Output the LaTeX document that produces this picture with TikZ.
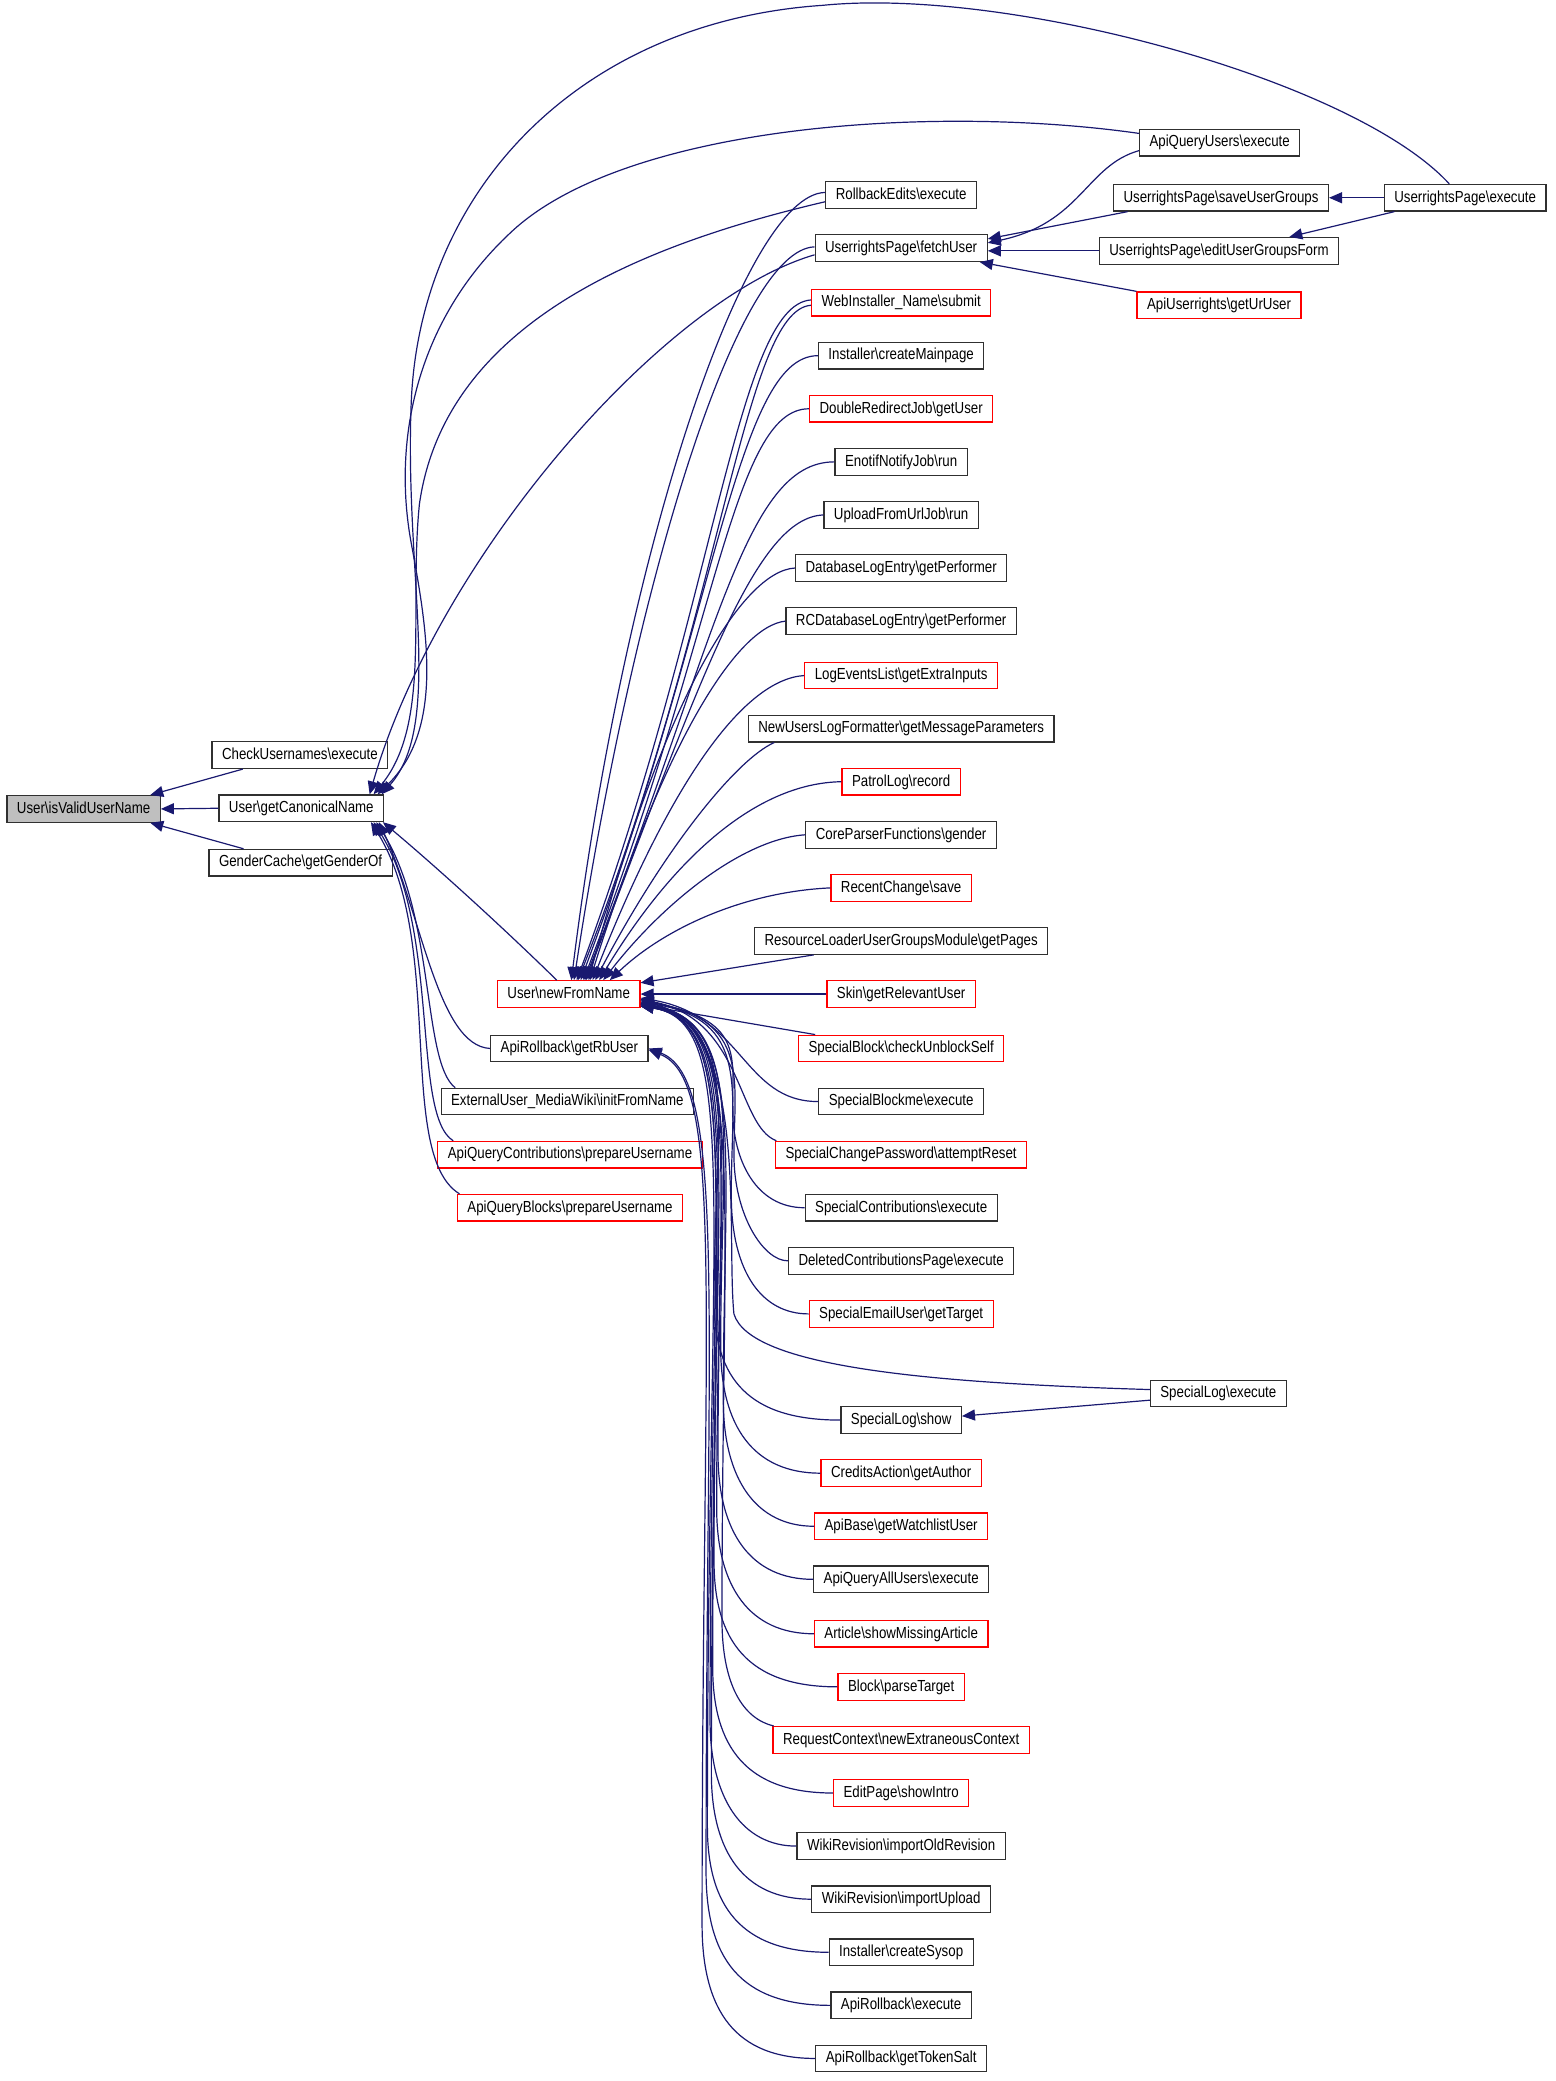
\documentclass[tikz,border=0pt]{standalone}
\usepackage{fontspec}
\setmainfont{Liberation Sans}[FakeStretch=0.83]
\usepackage{tikz}
\usetikzlibrary{arrows.meta,calc}
\definecolor{edgeblue}{HTML}{191970}
\definecolor{boxline}{HTML}{303030}
\newcommand{\bsl}{\textbackslash}

\begin{document}
\begin{tikzpicture}[x=0.6635pt,y=-0.6635pt]
	\useasboundingbox (0,0) rectangle (1172,1568);
	\begin{scope}[every node/.style={rectangle,draw=boxline,line width=0.6pt,fill=white,
				inner xsep=5pt,inner ysep=0pt,minimum height=13.3pt,
				text height=5.9pt,text depth=1.6pt,font=\fontsize{8}{9}\selectfont},
			missing/.style={draw=red},
			focus/.style={fill=gray!50}]
		% column 0: the function itself
		\node[focus] (ivu) at (63,609.5) {User\bsl isValidUserName};
		% column 1
		\node (chk) at (226,569) {CheckUsernames\bsl execute};
		\node (gcn) at (227,609) {User\bsl getCanonicalName};
		\node (gcg) at (226.5,650) {GenderCache\bsl getGenderOf};
		% column 2
		\node[missing] (nfn) at (428.5,749) {User\bsl newFromName};
		\node (grb) at (429,790) {ApiRollback\bsl getRbUser};
		\node (ext) at (427.5,830) {ExternalUser\_MediaWiki\bsl initFromName};
		\node[missing] (aqc) at (429.5,870) {ApiQueryContributions\bsl prepareUsername};
		\node[missing] (aqb) at (429.5,910) {ApiQueryBlocks\bsl prepareUsername};
		% column 3
		\node (rbe) at (679,147) {RollbackEdits\bsl execute};
		\node (fet) at (679,187) {UserrightsPage\bsl fetchUser};
		\node[missing] (wis) at (679,228) {WebInstaller\_Name\bsl submit};
		\node (icm) at (679,268) {Installer\bsl createMainpage};
		\node[missing] (drj) at (679,308) {DoubleRedirectJob\bsl getUser};
		\node (enj) at (679,348) {EnotifNotifyJob\bsl run};
		\node (ufu) at (679,388) {UploadFromUrlJob\bsl run};
		\node (dle) at (679,428) {DatabaseLogEntry\bsl getPerformer};
		\node (rcd) at (679,468) {RCDatabaseLogEntry\bsl getPerformer};
		\node[missing] (lel) at (679,509) {LogEventsList\bsl getExtraInputs};
		\node (nul) at (679,549) {NewUsersLogFormatter\bsl getMessageParameters};
		\node[missing] (plr) at (679,589) {PatrolLog\bsl record};
		\node (cpf) at (679,629) {CoreParserFunctions\bsl gender};
		\node[missing] (rcs) at (679,669) {RecentChange\bsl save};
		\node (rlg) at (679,709) {ResourceLoaderUserGroupsModule\bsl getPages};
		\node[missing] (skn) at (679,749) {Skin\bsl getRelevantUser};
		\node[missing] (sbc) at (679,790) {SpecialBlock\bsl checkUnblockSelf};
		\node (sbm) at (679,830) {SpecialBlockme\bsl execute};
		\node[missing] (scp) at (679,870) {SpecialChangePassword\bsl attemptReset};
		\node (sco) at (679,910) {SpecialContributions\bsl execute};
		\node (dcp) at (679,950) {DeletedContributionsPage\bsl execute};
		\node[missing] (seu) at (679,990) {SpecialEmailUser\bsl getTarget};
		\node (sls) at (679,1070) {SpecialLog\bsl show};
		\node[missing] (cag) at (679,1110) {CreditsAction\bsl getAuthor};
		\node[missing] (abw) at (679,1150) {ApiBase\bsl getWatchlistUser};
		\node (aau) at (679,1190) {ApiQueryAllUsers\bsl execute};
		\node[missing] (asm) at (679,1231) {Article\bsl showMissingArticle};
		\node[missing] (bpt) at (679,1271) {Block\bsl parseTarget};
		\node[missing] (rce) at (679,1311) {RequestContext\bsl newExtraneousContext};
		\node[missing] (eps) at (679,1351) {EditPage\bsl showIntro};
		\node (wio) at (679,1391) {WikiRevision\bsl importOldRevision};
		\node (wiu) at (679,1431) {WikiRevision\bsl importUpload};
		\node (ics) at (679,1471) {Installer\bsl createSysop};
		\node (are) at (679,1511) {ApiRollback\bsl execute};
		\node (ats) at (679,1551) {ApiRollback\bsl getTokenSalt};
		% column 4
		\node (aqu) at (919,107.5) {ApiQueryUsers\bsl execute};
		\node (sug) at (920,149) {UserrightsPage\bsl saveUserGroups};
		\node (eug) at (918.5,189) {UserrightsPage\bsl editUserGroupsForm};
		\node[missing] (aur) at (918.5,230) {ApiUserrights\bsl getUrUser};
		\node (sle) at (918,1050) {SpecialLog\bsl execute};
		% column 5
		\node (urpe) at (1104,149) {UserrightsPage\bsl execute};
	\end{scope}

	\begin{scope}[>={Triangle[length=6.5pt,width=5.5pt]},
			calls/.style={draw=edgeblue,line width=0.6pt,->}]
		% into isValidUserName
		\draw[calls] ($(chk.south)+(-43,0)$) -- ($(ivu.north east)+(-8,0)$);
		\draw[calls] (gcn.west) -- (ivu.east);
		\draw[calls] ($(gcg.north)+(-43,0)$) -- ($(ivu.south east)+(-8,0)$);

		% into getCanonicalName, from above
		\draw[calls] ($(urpe.north)+(-12,0)$) .. controls (1020,60) and (760,-10) .. (620,4)
			.. controls (440,16) and (318,140) .. (310,300)
			.. controls (304,430) and (335,545) .. ($(gcn.north east)+(-2,0)$);
		\draw[calls] ($(aqu.west)+(0,-7)$) .. controls (700,78) and (470,95) .. (385,175)
			.. controls (315,240) and (295,330) .. (310,410)
			.. controls (322,475) and (335,550) .. ($(gcn.north east)+(-5,0)$);
		\draw[calls] ($(rbe.west)+(0,5)$) .. controls (480,185) and (335,245) .. (316,380)
			.. controls (308,460) and (325,545) .. ($(gcn.north east)+(-8,0)$);
		\draw[calls] ($(fet.west)+(0,5)$) .. controls (500,225) and (330,420) .. ($(gcn.north east)+(-11,0)$);
		% into getCanonicalName, from below
		\draw[calls] ($(nfn.north)+(-9,0)$) .. controls (375,695) and (325,650) .. ($(gcn.south east)+(-1,0)$);
		\draw[calls] (grb.west) .. controls (330,788) and (318,690) .. ($(gcn.south east)+(-4,0)$);
		\draw[calls] ($(ext.north west)+(11,0)$) .. controls (318,800) and (328,690) .. ($(gcn.south east)+(-6,0)$);
		\draw[calls] ($(aqc.north west)+(12,0)$) .. controls (310,840) and (332,700) .. ($(gcn.south east)+(-8,0)$);
		\draw[calls] ($(aqb.north west)+(2,0)$) .. controls (298,870) and (336,710) .. ($(gcn.south east)+(-10,0)$);

		% into newFromName, from above
		\draw[calls] ($(rbe.west)+(0,-2)$) .. controls (560,146) and (470,420) .. ($(nfn.north)+(2,0)$);
		\draw[calls] ($(fet.west)+(0,-1)$) .. controls (555,188) and (478,440) .. ($(nfn.north)+(4,0)$);
		\draw[calls] ($(wis.west)+(0,-2)$) .. controls (555,230) and (540,455) .. ($(nfn.north)+(6,0)$);
		\draw[calls] ($(wis.west)+(0,2)$) .. controls (560,234) and (545,460) .. ($(nfn.north)+(7,0)$);
		\draw[calls] (icm.west) .. controls (555,268) and (540,465) .. ($(nfn.north)+(9,0)$);
		\draw[calls] (drj.west) .. controls (552,308) and (541,475) .. ($(nfn.north)+(11,0)$);
		\draw[calls] (enj.west) .. controls (560,348) and (540,485) .. ($(nfn.north)+(12,0)$);
		\draw[calls] (ufu.west) .. controls (570,390) and (530,505) .. ($(nfn.north)+(13,0)$);
		\draw[calls] (dle.west) .. controls (560,430) and (500,525) .. ($(nfn.north)+(15,0)$);
		\draw[calls] (rcd.west) .. controls (555,472) and (500,560) .. ($(nfn.north)+(16,0)$);
		\draw[calls] (lel.west) .. controls (560,512) and (505,590) .. ($(nfn.north)+(18,0)$);
		\draw[calls] ($(nul.south west)+(20,0)$) .. controls (555,572) and (500,640) .. ($(nfn.north)+(20,0)$);
		\draw[calls] (plr.west) .. controls (568,590) and (505,650) .. ($(nfn.north)+(23,0)$);
		\draw[calls] (cpf.west) .. controls (560,632) and (500,680) .. ($(nfn.north)+(26,0)$);
		\draw[calls] (rcs.west) .. controls (560,672) and (500,700) .. ($(nfn.north)+(31,0)$);
		\draw[calls] ($(rlg.south west)+(45,0)$) -- ($(nfn.north east)+(0,2)$);
		\draw[calls] (skn.west) -- (nfn.east);
		\draw[calls] ($(sbc.north west)+(13,0)$) -- ($(nfn.east)+(0,8)$);

		% into newFromName, from below
		\draw[calls] (sbm.west) .. controls (560,830) and (560,765) .. ($(nfn.east)+(0,3)$);
		\draw[calls] ($(scp.north west)+(1,0)$) .. controls (555,848) and (560,768) .. ($(nfn.east)+(0,4)$);
		\draw[calls] (sco.west) .. controls (570,910) and (552,875) .. (552,835)
			.. controls (552,795) and (560,768) .. ($(nfn.east)+(0,5)$);
		\draw[calls] (dcp.west) .. controls (575,950) and (553,915) .. (553,870)
			.. controls (553,815) and (566,768) .. ($(nfn.east)+(0,5)$);
		\draw[calls] (seu.west) .. controls (575,990) and (551,960) .. (551,900)
			.. controls (551,820) and (566,768) .. ($(nfn.east)+(0,6)$);
		\draw[calls] ($(sle.west)+(0,-3)$) .. controls (700,1042) and (565,1030) .. (553,990)
			.. controls (547,930) and (565,770) .. ($(nfn.east)+(0,6)$);
		\draw[calls] (sls.west) .. controls (565,1070) and (538,1040) .. (538,980)
			.. controls (538,850) and (560,770) .. ($(nfn.east)+(0,7)$);
		\draw[calls] (cag.west) .. controls (568,1110) and (543,1075) .. (543,1015)
			.. controls (543,860) and (562,770) .. ($(nfn.east)+(0,7)$);
		\draw[calls] (abw.west) .. controls (570,1150) and (545,1115) .. (545,1055)
			.. controls (545,870) and (563,770) .. ($(nfn.east)+(0,7)$);
		\draw[calls] (aau.west) .. controls (566,1190) and (541,1155) .. (541,1095)
			.. controls (541,870) and (562,770) .. ($(nfn.east)+(0,8)$);
		\draw[calls] (asm.west) .. controls (565,1231) and (540,1196) .. (540,1136)
			.. controls (540,880) and (562,770) .. ($(nfn.east)+(0,8)$);
		\draw[calls] (bpt.west) .. controls (563,1271) and (538,1236) .. (538,1176)
			.. controls (538,880) and (561,770) .. ($(nfn.east)+(0,8)$);
		\draw[calls] ($(rce.north west)+(1,0)$) .. controls (560,1295) and (544,1270) .. (544,1220)
			.. controls (544,880) and (563,770) .. ($(nfn.east)+(0,9)$);
		\draw[calls] (eps.west) .. controls (562,1351) and (537,1316) .. (537,1256)
			.. controls (537,890) and (561,770) .. ($(nfn.east)+(0,9)$);
		\draw[calls] (wio.west) .. controls (560,1391) and (535,1356) .. (535,1296)
			.. controls (535,890) and (560,770) .. ($(nfn.east)+(0,9)$);
		\draw[calls] (wiu.west) .. controls (561,1431) and (536,1396) .. (536,1336)
			.. controls (536,890) and (560,770) .. ($(nfn.east)+(0,9)$);
		\draw[calls] (ics.west) .. controls (558,1471) and (533,1436) .. (533,1376)
			.. controls (533,900) and (559,770) .. ($(nfn.east)+(0,9)$);

		% into getRbUser
		\draw[calls] (are.west) .. controls (557,1511) and (532,1475) .. (532,1410)
			.. controls (532,980) and (548,812) .. (grb.east);
		\draw[calls] (ats.west) .. controls (554,1551) and (529,1515) .. (529,1450)
			.. controls (529,980) and (547,814) .. ($(grb.east)+(0,1)$);

		% upper right group
		\draw[calls] (urpe.west) -- (sug.east);
		\draw[calls] ($(urpe.south west)+(8,0)$) -- ($(eug.north)+(53,0)$);
		\draw[calls] ($(aqu.west)+(0,6)$) .. controls (818,125) and (815,168) .. ($(fet.east)+(0,-4)$);
		\draw[calls] ($(sug.south west)+(11,0)$) -- ($(fet.east)+(0,-7)$);
		\draw[calls] (eug.west) -- ($(fet.east)+(0,2)$);
		\draw[calls] (aur.north west) -- ($(fet.south east)+(-6,0)$);

		% special log
		\draw[calls] ($(sle.west)+(0,5)$) -- ($(sls.east)+(0,-3)$);
	\end{scope}
\end{tikzpicture}
\end{document}
